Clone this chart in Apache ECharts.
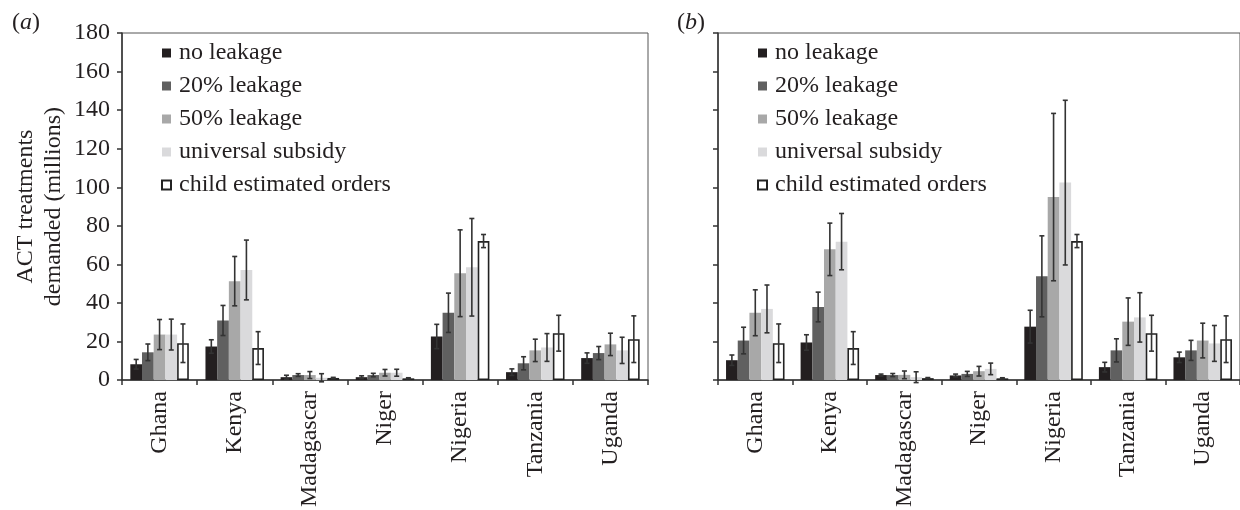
<!DOCTYPE html>
<html>
<head>
<meta charset="utf-8">
<script src="https://cdn.jsdelivr.net/npm/echarts@6/dist/echarts.min.js"></script>
<style>
html,body{margin:0;padding:0;background:#fff;}
#chart{width:1240px;height:510px;}
</style>
</head>
<body>
<div id="chart"></div>
<script>
var fontFamily='"Liberation Serif","Times New Roman",Times,serif';
var categories=['Ghana','Kenya','Madagascar','Niger','Nigeria','Tanzania','Uganda'];
var seriesNames=['no leakage','20% leakage','50% leakage','universal subsidy','child estimated orders'];
var colors=['#231f20','#606060','#a8a8a8','#dadadc','#ffffff'];
var yTicks=[0,20,40,60,80,100,120,140,160,180];

// panel (a)
var aNo=[8.2,17.4,1.5,1.5,22.6,4.1,11.4];
var aNoErr=[2.5,3.5,1.0,0.7,6.3,1.7,2.7];
var aL20=[14.4,30.9,2.6,2.6,34.9,8.7,14.0];
var aL20Err=[4.3,7.8,0.7,0.9,10.2,3.4,3.4];
var aL50=[23.6,51.3,2.6,3.8,55.4,15.4,18.5];
var aL50Err=[7.8,12.8,1.8,1.7,22.5,5.8,5.8];
var aUni=[23.6,57.1,1.2,3.8,58.5,16.9,15.4];
var aUniErr=[8.0,15.5,2.1,1.8,25.3,7.2,6.8];
var aChild=[19.1,16.6,1.1,0.9,72.1,24.3,21.2];
var aChildErr=[10.0,8.5,0.3,0.3,3.4,9.3,12.1];

// panel (b)
var bNo=[10.3,19.5,2.6,2.4,27.7,6.7,11.8];
var bNoErr=[2.7,4.0,0.5,0.7,8.5,2.5,2.7];
var bL20=[20.5,37.9,2.6,3.2,53.8,15.4,15.4];
var bL20Err=[6.9,7.7,0.8,1.3,21.0,6.0,5.2];
var bL50=[34.9,67.8,2.7,4.6,94.9,30.3,20.5];
var bL50Err=[11.9,13.6,2.0,2.5,43.4,12.3,9.0];
var bUni=[36.9,71.8,1.5,5.8,102.4,32.5,19.0];
var bUniErr=[12.4,14.6,2.8,3.0,42.7,12.8,9.3];
var bChild=[19.1,16.6,1.0,0.9,72.1,24.3,21.2];
var bChildErr=[10.0,8.5,0.3,0.3,3.4,9.3,12.1];

var barW=11.7;
var fs=24;
var chart=echarts.init(document.getElementById('chart'));

function errSeries(name,vals,errs,k,axis){
    var d=[];
    for(var i=0;i<vals.length;i++){d.push([i,vals[i],errs[i]]);}
    return {
        type:'custom',
        name:name+' err',
        xAxisIndex:axis,yAxisIndex:axis,
        z:10,silent:true,
        data:d,
        encode:{x:0,y:1},
        renderItem:function(params,api){
            var off=(k-2)*barW;
            var c=api.value(0),v=api.value(1),e=api.value(2);
            var hi=api.coord([c,v+e]);
            var lo=api.coord([c,v-e]);
            var x=hi[0]+off;
            var st={stroke:'#333',lineWidth:1.6};
            return {type:'group',children:[
                {type:'line',shape:{x1:x,y1:hi[1],x2:x,y2:lo[1]},style:st},
                {type:'line',shape:{x1:x-2.5,y1:hi[1],x2:x+2.5,y2:hi[1]},style:st},
                {type:'line',shape:{x1:x-2.5,y1:lo[1],x2:x+2.5,y2:lo[1]},style:st}
            ]};
        }
    };
}

function barSeries(name,vals,k,axis){
    return {
        type:'bar',
        name:name,
        xAxisIndex:axis,yAxisIndex:axis,
        data:vals,
        barWidth:barW,
        barGap:'0%',
        itemStyle:{color:colors[k],borderColor:k==4?'#222':colors[k],borderWidth:k==4?1.6:0},
        emphasis:{disabled:true}
    };
}

var panels=[
    [aNo,aL20,aL50,aUni,aChild],
    [bNo,bL20,bL50,bUni,bChild]
];
var panelErr=[
    [aNoErr,aL20Err,aL50Err,aUniErr,aChildErr],
    [bNoErr,bL20Err,bL50Err,bUniErr,bChildErr]
];

var series=[];
for(var p=0;p<2;p++){
    for(var k=0;k<5;k++){
        series.push(barSeries(seriesNames[k],panels[p][k],k,p));
    }
    for(var k=0;k<5;k++){
        series.push(errSeries(seriesNames[k],panels[p][k],panelErr[p][k],k,p));
    }
}

function xAx(gi){
    return {
        type:'category',gridIndex:gi,data:categories,
        axisLine:{lineStyle:{color:'#333',width:1.5}},
        axisTick:{show:true,length:5,lineStyle:{color:'#333',width:1.5}},
        axisLabel:{rotate:90,margin:11,color:'#231f20',fontFamily:fontFamily,fontSize:fs}
    };
}
function yAx(gi,labels){
    var ax={
        type:'value',gridIndex:gi,min:yTicks[0],max:yTicks[yTicks.length-1],interval:20,
        axisLine:{show:true,lineStyle:{color:'#333',width:1.5}},
        axisTick:{show:true,length:5,lineStyle:{color:'#333',width:1.5}},
        splitLine:{show:false},
        axisLabel:{show:labels,margin:12,color:'#231f20',fontFamily:fontFamily,fontSize:fs}
    };
    if(labels){
        ax.name='ACT treatments\ndemanded (millions)';
        ax.nameLocation='middle';
        ax.nameRotate=90;
        ax.nameGap=54;
        ax.nameTextStyle={color:'#231f20',fontFamily:fontFamily,fontSize:fs,lineHeight:28};
    }
    return ax;
}
function legend(left){
    return {
        data:seriesNames,
        orient:'vertical',
        left:left,top:36,
        itemWidth:9,itemHeight:9,itemGap:9,
        icon:'rect',
        selectedMode:false,
        textStyle:{color:'#231f20',fontFamily:fontFamily,fontSize:fs,padding:[0,0,0,3]}
    };
}
var titleRich={i:{fontStyle:'italic',fontFamily:fontFamily,fontSize:fs,color:'#231f20'}};

var option={
    animation:false,
    title:[
        {text:'({i|a})',left:7,top:6,textStyle:{fontFamily:fontFamily,fontSize:fs,fontWeight:'normal',color:'#231f20',rich:titleRich}},
        {text:'({i|b})',left:672,top:6,textStyle:{fontFamily:fontFamily,fontSize:fs,fontWeight:'normal',color:'#231f20',rich:titleRich}}
    ],
    legend:[legend(156),legend(752)],
    grid:[
        {left:122,top:33,width:526,height:351,show:true,borderColor:'#555',borderWidth:1},
        {left:718,top:33,width:525,height:351,show:true,borderColor:'#555',borderWidth:1}
    ],
    xAxis:[xAx(0),xAx(1)],
    yAxis:[yAx(0,true),yAx(1,false)],
    series:series
};
chart.setOption(option);
</script>
</body>
</html>
